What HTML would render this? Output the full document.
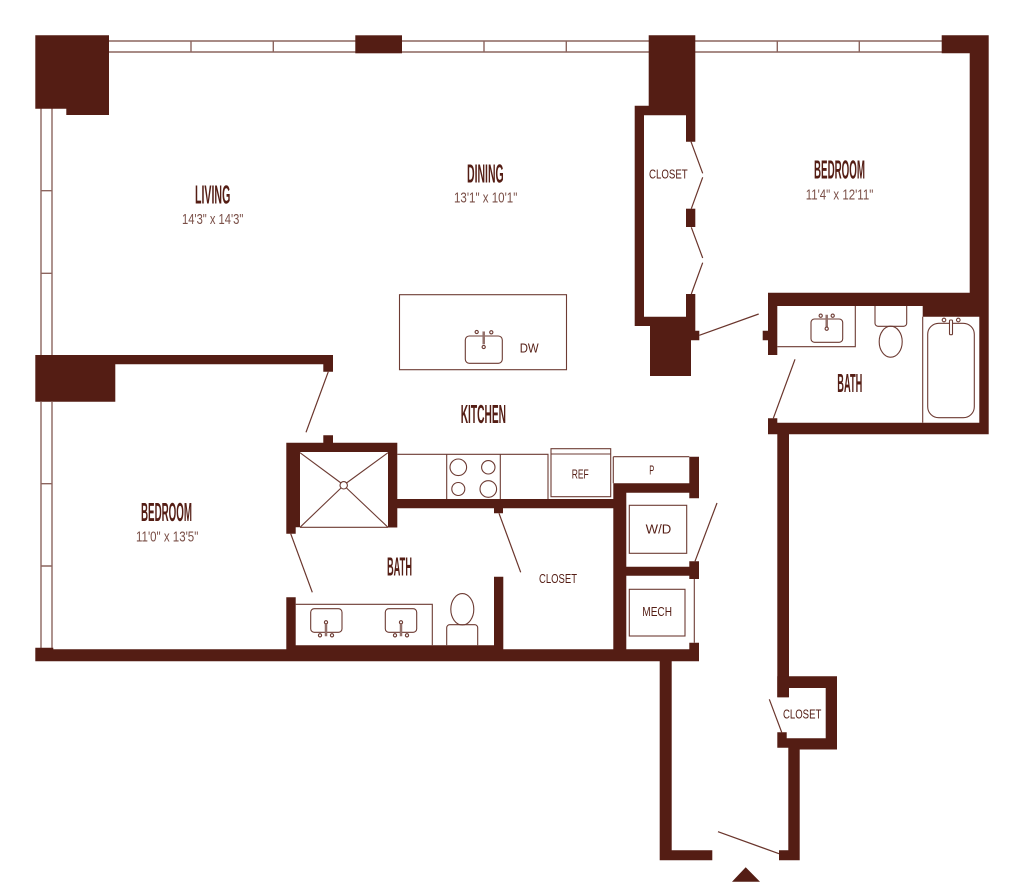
<!DOCTYPE html>
<html lang="en">
<head>
<meta charset="utf-8">
<title>Floor Plan</title>
<style>
html,body{margin:0;padding:0;background:#fff;width:1024px;height:896px;overflow:hidden}
svg{display:block;position:absolute;left:0;top:0}
.w{fill:#541d14;stroke:none}
.l{fill:none;stroke:#6d3b33;stroke-width:1.1}
.f{fill:none;stroke:#8c655f;stroke-width:1.4}
.d{fill:none;stroke:#6a352c;stroke-width:1.2}
text{font-family:"Liberation Sans",sans-serif}
.t{font-weight:700;font-size:26px;fill:#541d14}
.s{font-size:14.5px;fill:#7a4f47}
.c{font-size:12.5px;fill:#541d14}
</style>
</head>
<body>
<svg width="1024" height="896" viewBox="0 0 1024 896" xmlns="http://www.w3.org/2000/svg">

<!-- Windows -->
<g class="f">
  <path d="M109 41H355.5M109 52H355.5M191 41V52M273.3 41V52"/>
  <path d="M402 41H649M402 52H649M484 41V52M566.3 41V52"/>
  <path d="M695 41H942M695 52H942M777.3 41V52M859.3 41V52"/>
  <path d="M41 108V355M52 108V355M41 190.7H52M41 273.3H52"/>
  <path d="M41 402V648M52 402V648M41 483.7H52M41 566H52"/>
</g>

<!-- Walls -->
<g class="w">
  <path d="M35.3 35.3H109V115H66.3V108.7H35.3Z"/>
  <rect x="355.3" y="35.3" width="46.7" height="18"/>
  <path d="M648.7 35.3H695.3V141.7H686V115.3H644V316.7H686V294H695.3V330.7H699.3V340.3H691V376H650V326H634.7V105.7H648.7Z"/>
  <rect x="686" y="208.7" width="9.3" height="18.3"/>
  <path d="M941.7 35.3H988.7V434.3H789V697.3H777.3V434.3H768V418.3H777.3V422.7H979.3V316.7H922.7V306H777.3V355H768V340.3H762.7V330.7H768V292.7H969.7V53.3H941.7Z"/>

  <path d="M35.3 355H333V371.7H323.3V364.3H115.3V401.7H35.3Z"/>
  <path d="M286.3 442.7H323.3V435.3H333V442.7H397.3V499H613.3V483.3H689.3V456.7H699V498.3H689.3V492.7H626.3V566.7H689.3V561.3H699V579H689.3V575.7H626.3V649.3H689.3V642.7H699V661.3H671.7V850.3H712.3V860.3H659.7V661.3H35.3V647.7H53.3V649.3H286.3V597.3H295.7V645.3H494V576.7H503.3V649.3H613.3V508.3H503V513.3H494V508.3H397.3V527.5H388V452H300V527.3H295.7V533.7H286.3Z"/>

  <path d="M777.3 676.3H837V749.5H799.7V860.3H779V850.3H788.3V747.7H777.3V732.3H786.7V738.3H825.7V688H788.7V697.3H777.3Z"/>
  <path d="M732 881.7L745.7 867.3L760 881.7Z"/>
</g>

<!-- Door swings -->
<g class="d">
  <path d="M691 141.7L702.7 173.3M702.7 177.3L691.3 208.7M691.3 227.3L702.7 258M702.7 262.7L691.3 294"/>
  <path d="M699.3 335.3L758.7 314"/>
  <path d="M773.3 418.3L795 359.3"/>
  <path d="M328.3 371.7L306 432.3"/>
  <path d="M290.7 533.7L312.3 592.3"/>
  <path d="M499 513.3L520.7 572.3"/>
  <path d="M695 561.3L717 503"/>
  <path d="M781.7 732.3L769.3 699.3"/>
  <path d="M779 853.7L718 831.7"/>
</g>

<!-- Island -->
<g class="l">
  <rect x="399.5" y="294.7" width="167" height="75"/>
  <rect x="465.3" y="336" width="37" height="27.3" rx="4"/>
  <circle cx="476.7" cy="332" r="1.6"/>
  <circle cx="491.3" cy="332.3" r="1.6"/>
  <rect x="482.7" y="331.7" width="2" height="12.3" fill="#93706a" stroke="#93706a" stroke-width=".5"/>
  <circle cx="483.7" cy="347" r="1.6"/>
</g>

<!-- Shower -->
<g class="l">
  <path d="M300 452.7L341 483M388 452.7L346.5 483M300 527.3L341 488M388 527.3L346.5 488"/>
  <path d="M300 527.3H388"/>
  <circle cx="343.7" cy="485.3" r="3.7"/>
</g>

<!-- Kitchen counter -->
<g class="l">
  <path d="M397.3 454.3H548V499M446.7 454.3V499M500.3 454.3V499"/>
  <circle cx="458.3" cy="467.3" r="8.3"/>
  <circle cx="488.3" cy="467.3" r="6.7"/>
  <circle cx="458.3" cy="489" r="6.5"/>
  <circle cx="488.3" cy="489" r="8.3"/>
  <rect x="551" y="448.7" width="59.7" height="48"/>
  <path d="M551 454H610.7M613.3 456.7H689.3M613.3 456.7V483.3"/>
</g>

<!-- Laundry, mech -->
<g class="l">
  <rect x="629.3" y="505.3" width="57.4" height="48"/>
  <rect x="629.3" y="589.3" width="55.7" height="46.7"/>
  <path d="M694.3 579V642.7"/>
</g>

<!-- Bath 1 (lower) -->
<g class="l">
  <path d="M295.7 604.3H432.3V645.3"/>
  <rect x="310.7" y="608.7" width="31.3" height="23.6" rx="3.5"/>
  <rect x="385.3" y="608.7" width="31.4" height="23.6" rx="3.5"/>
  <circle cx="320" cy="635.3" r="1.6"/>
  <circle cx="332" cy="635.3" r="1.6"/>
  <circle cx="326" cy="622.3" r="1.6"/>
  <rect x="325" y="624.3" width="2" height="11.7" fill="#93706a" stroke="#93706a" stroke-width=".5"/>
  <circle cx="395" cy="635.3" r="1.6"/>
  <circle cx="407" cy="635.3" r="1.6"/>
  <circle cx="401" cy="622.3" r="1.6"/>
  <rect x="400" y="624.3" width="2" height="11.7" fill="#93706a" stroke="#93706a" stroke-width=".5"/>
  <ellipse cx="462.3" cy="609.3" rx="11.5" ry="15.7"/>
  <path d="M446.7 645.3V627.7a3 3 0 0 1 3-3H474.7a3 3 0 0 1 3 3V645.3"/>
</g>

<!-- Bath 2 (upper) -->
<g class="l">
  <path d="M777.3 346.7H855.3V306"/>
  <rect x="811" y="319" width="31.7" height="23.3" rx="3.5"/>
  <circle cx="820.7" cy="315.7" r="1.6"/>
  <circle cx="832.7" cy="315.7" r="1.6"/>
  <rect x="825.7" y="315" width="2" height="12" fill="#93706a" stroke="#93706a" stroke-width=".5"/>
  <circle cx="826.7" cy="328.7" r="1.6"/>
  <path d="M875 306V323.3a3 3 0 0 0 3 3H903.7a3 3 0 0 0 3-3V306"/>
  <ellipse cx="890.7" cy="341.7" rx="11.5" ry="15.5"/>
  <path d="M922.7 316.7V422.7"/>
  <rect x="927.7" y="323.3" width="46.6" height="94.4" rx="11"/>
  <circle cx="944" cy="320" r="1.8"/>
  <circle cx="958.3" cy="320" r="1.8"/>
  <rect x="949.5" y="320" width="3" height="14.7" rx="1" fill="#fff"/>
</g>

<!-- Labels -->
<text class="t" x="195" y="203.3" textLength="35.3" lengthAdjust="spacingAndGlyphs">LIVING</text>
<text class="s" x="182" y="224" textLength="61.3" lengthAdjust="spacingAndGlyphs">14'3" x 14'3"</text>
<text class="t" x="467" y="182.3" textLength="36.7" lengthAdjust="spacingAndGlyphs">DINING</text>
<text class="s" x="454" y="202.5" textLength="63.3" lengthAdjust="spacingAndGlyphs">13'1" x 10'1"</text>
<text class="t" x="814" y="178.3" textLength="51" lengthAdjust="spacingAndGlyphs">BEDROOM</text>
<text class="s" x="805.7" y="199.3" textLength="67.6" lengthAdjust="spacingAndGlyphs">11'4" x 12'11"</text>
<text class="c" x="649" y="178.7" textLength="38.7" lengthAdjust="spacingAndGlyphs">CLOSET</text>
<text class="t" x="837.3" y="392" textLength="25" lengthAdjust="spacingAndGlyphs">BATH</text>
<text class="t" x="460.7" y="423" textLength="45.3" lengthAdjust="spacingAndGlyphs">KITCHEN</text>
<text class="c" x="571.7" y="478.7" textLength="17" lengthAdjust="spacingAndGlyphs">REF</text>
<text class="c" x="649.3" y="474.5" textLength="5" lengthAdjust="spacingAndGlyphs">P</text>
<text class="c" x="519.7" y="352.5" textLength="19" lengthAdjust="spacingAndGlyphs">DW</text>
<text class="t" x="387" y="575.3" textLength="25" lengthAdjust="spacingAndGlyphs">BATH</text>
<text class="c" x="539" y="583" textLength="38" lengthAdjust="spacingAndGlyphs">CLOSET</text>
<text class="c" x="645.7" y="533.3" textLength="25.6" lengthAdjust="spacingAndGlyphs">W/D</text>
<text class="c" x="642.3" y="616" textLength="29.7" lengthAdjust="spacingAndGlyphs">MECH</text>
<text class="t" x="141" y="521" textLength="51" lengthAdjust="spacingAndGlyphs">BEDROOM</text>
<text class="s" x="136" y="541.7" textLength="62.3" lengthAdjust="spacingAndGlyphs">11'0" x 13'5"</text>
<text class="c" x="783" y="718.7" textLength="38.3" lengthAdjust="spacingAndGlyphs">CLOSET</text>
</svg>
</body>
</html>
